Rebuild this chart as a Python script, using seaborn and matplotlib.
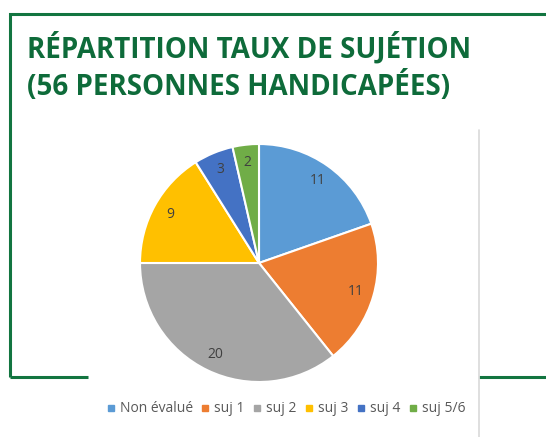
import matplotlib
matplotlib.use("Agg")
import matplotlib.pyplot as plt
import seaborn as sns
from matplotlib.lines import Line2D

categories = ["Non évalué", "suj 1", "suj 2", "suj 3", "suj 4", "suj 5/6"]
counts = [11, 11, 20, 9, 3, 2]
colors = ["#5B9BD5", "#ED7D31", "#A5A5A5", "#FFC000", "#4472C4", "#70AD47"]
title_lines = ["RÉPARTITION TAUX DE SUJÉTION", "(56 PERSONNES HANDICAPÉES)"]

sns.set_theme(style="white")
plt.rcParams["font.family"] = ["Open Sans", "DejaVu Sans"]
palette = sns.color_palette(colors)

W, H = 546, 437
fig = plt.figure(figsize=(W / 100, H / 100), dpi=100)
fig.patch.set_facecolor("white")


def fx(x):
    return x / W


def fy(y):
    return 1 - y / H


green = "#127540"
title_green = "#0E6B3A"

# green frame around the slide block
fig.add_artist(Line2D([fx(10), fx(10), 1.0], [fy(377), fy(14), fy(14)],
                      transform=fig.transFigure, color=green, lw=2.2,
                      solid_joinstyle="miter", solid_capstyle="butt"))
fig.add_artist(Line2D([fx(10), fx(88)], [fy(377), fy(377)],
                      transform=fig.transFigure, color=green, lw=2.2,
                      solid_capstyle="butt"))
fig.add_artist(Line2D([fx(479), 1.0], [fy(377), fy(377)],
                      transform=fig.transFigure, color=green, lw=2.2,
                      solid_capstyle="butt"))
# right edge of the chart panel
fig.add_artist(Line2D([fx(479), fx(479)], [fy(130), 0.0],
                      transform=fig.transFigure, color="#D9D9D9", lw=1.2))

# title
fig.text(fx(27), fy(58), title_lines[0], fontsize=20, fontweight="bold",
         color=title_green, va="baseline", ha="left")
fig.text(fx(27), fy(95), title_lines[1], fontsize=20, fontweight="bold",
         color=title_green, va="baseline", ha="left")

# pie
ax = fig.add_axes([fx(140), fy(382), 238 / W, 238 / H])
total = sum(counts)
wedges, texts, autotexts = ax.pie(
    counts, colors=palette, startangle=90, counterclock=False,
    autopct=lambda p: f"{round(p * total / 100):d}", pctdistance=0.85,
    wedgeprops=dict(edgecolor="white", linewidth=1.5),
    textprops=dict(color="#404040", fontsize=10),
)
ax.set_xlim(-1, 1)
ax.set_ylim(-1, 1)
ax.set_aspect("equal")
ax.axis("off")

# legend
handles = [Line2D([], [], marker="s", linestyle="none", markersize=5,
                  markerfacecolor=c, markeredgecolor=c) for c in palette]
fig.legend(handles, categories, loc="center", bbox_to_anchor=(fx(286), fy(409)),
           ncol=6, frameon=False, fontsize=10, labelcolor="#595959",
           handlelength=0.6, handletextpad=0.35, columnspacing=0.6,
           borderpad=0, borderaxespad=0)

fig.savefig("out.png", dpi=100, facecolor="white")
